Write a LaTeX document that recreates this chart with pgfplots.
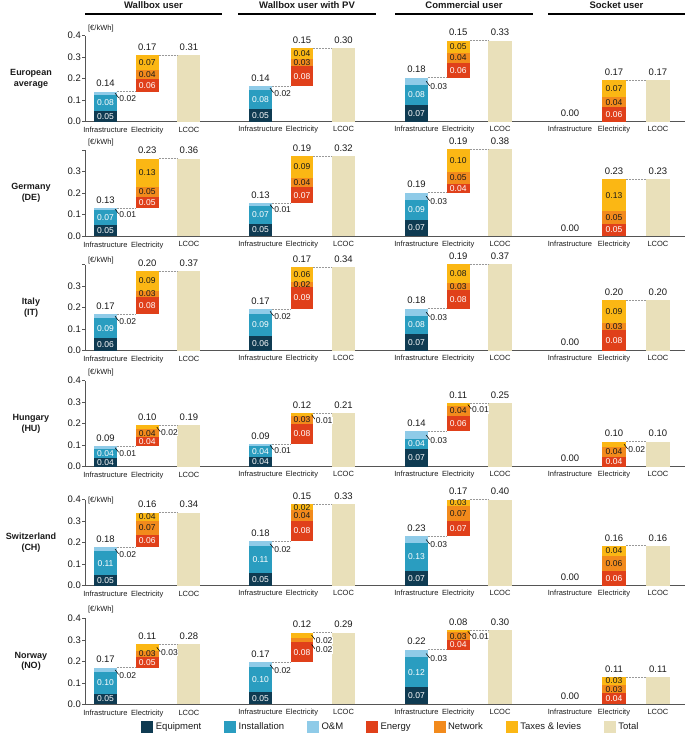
\documentclass[border=0pt]{standalone}
\usepackage{fontspec}
\setmainfont{Liberation Sans}
\usepackage{pgfplots}
\pgfplotsset{compat=1.18}

\definecolor{cEq}{HTML}{0F3B52}
\definecolor{cIn}{HTML}{2A9DC0}
\definecolor{cOM}{HTML}{8FCBE8}
\definecolor{cEn}{HTML}{E0401A}
\definecolor{cNw}{HTML}{F28A1C}
\definecolor{cTx}{HTML}{FBB714}
\definecolor{cTot}{HTML}{E9E0BA}
\definecolor{cAx}{HTML}{555555}
\definecolor{cConn}{HTML}{999999}
\definecolor{cTxt}{HTML}{1A1A1A}

\tikzset{
 seg/.style={font=\fontsize{8.5}{9}\selectfont, inner sep=0pt, anchor=center},
 toplab/.style={font=\fontsize{9.5}{11}\selectfont, text=cTxt, inner sep=0pt, anchor=south, yshift=4.5pt},
 outl/.style={font=\fontsize{8.5}{9}\selectfont, text=cTxt, fill=white, inner sep=0.6pt, anchor=west, yshift=-1pt},
 leader/.style={draw=black, line width=0.55pt},
}

\pgfplotsset{
 wf/.style={ybar stacked, reverse stacked plots=false, scale only axis, height=86pt, ymin=0, clip=false, anchor=south west,
   axis lines=left, axis line style={draw=cAx, line width=0.9pt, -},
   xtick={0,1,2}, xticklabels={Infrastructure,Electricity,LCOC}, xtick style={draw=none},
   xticklabel style={font=\fontsize{7.5}{8}\selectfont, text=cTxt, inner sep=0pt, yshift=-2.5pt},
   every axis plot/.append style={draw=none},
 },
 c1/.style={width=153pt, xmin=-0.491, xmax=3.174, bar width=0.551,
   ytick={0,0.1,0.2,0.3,0.4}, yticklabels={0.0,0.1,0.2,0.3,0.4},
   ytick style={draw=cAx, line width=0.6pt}, major tick length=3pt, tick align=outside,
   y axis line style={line width=0.7pt},
   yticklabel style={font=\fontsize{9.5}{10}\selectfont, text=cTxt, inner sep=1pt}},
 c1n/.style={c1, yticklabels={0.0,0.1,0.2,0.3,{}}},
 c2/.style={width=157pt, xmin=-0.542, xmax=3.241, bar width=0.554, axis y line=none, ytick=\empty},
 c3/.style={width=153pt, xmin=-0.515, xmax=3.150, bar width=0.551, axis y line=none, ytick=\empty},
 c4/.style={width=137pt, xmin=-0.5, xmax=2.614, bar width=0.534, axis y line=none, ytick=\empty},
 conn/.style={sharp plot, stack plots=false, draw=cConn, dashed, dash pattern=on 2pt off 1pt, line width=0.6pt, mark=none, fill=none},
}

% data: equipment, installation, O&M, base(infra total), energy, network, taxes, LCOC total
\newcommand\wfP[8]{%
 \def\dE{#1}\def\dI{#2}\def\dO{#3}\def\dB{#4}\def\dEn{#5}\def\dN{#6}\def\dT{#7}\def\dTot{#8}%
 \addplot[fill=none] coordinates {(0,0) (1,#4) (2,0)};
 \addplot[fill=cEq] coordinates {(0,#1) (1,0) (2,0)};
 \addplot[fill=cIn] coordinates {(0,#2) (1,0) (2,0)};
 \addplot[fill=cOM] coordinates {(0,#3) (1,0) (2,0)};
 \addplot[fill=cEn] coordinates {(0,0) (1,#5) (2,0)};
 \addplot[fill=cNw] coordinates {(0,0) (1,#6) (2,0)};
 \addplot[fill=cTx] coordinates {(0,0) (1,#7) (2,0)};
 \addplot[fill=cTot] coordinates {(0,0) (1,0) (2,#8)};
 \ifdim #4pt>0pt \addplot[conn] coordinates {(0.275,#4) (0.725,#4)};\fi
 \addplot[conn] coordinates {(1.275,#8) (1.725,#8)};
}

\newcommand\seglab[5]{\pgfmathsetmacro\ym{#2+#3/2}\edef\tmp{\noexpand\node[seg,text=#5] at (axis cs:#1,\ym) {#4};}\tmp}
\newcommand\toplabel[3]{\edef\tmp{\noexpand\node[toplab] at (axis cs:#1,#2) {#3};}\tmp}
\newcommand\outlab[3]{\pgfmathsetmacro\yo{#2}\edef\tmp{\noexpand\draw[leader] (axis cs:#1,\yo) -- ++(3.5pt,-4.5pt) node[outl] {#3};}\tmp}
\newcommand\unitlab[1]{\node[anchor=west, font=\fontsize{7.5}{8}\selectfont, text=cTxt, inner sep=0pt] at (axis cs:-0.42,#1) {[€/kWh]};}

\def\storelabels#1#2#3#4#5#6#7#8#9{\def\lE{#1}\def\lI{#2}\def\lO{#3}\def\lB{#4}\def\lEn{#5}\def\lN{#6}\def\lT{#7}\def\lTT{#8}\def\lTot{#9}\dolabels}
\newcommand\labs{\def\wfmode{0}\storelabels}
\newcommand\labsT{\def\wfmode{1}\storelabels}
\newcommand\labsNT{\def\wfmode{2}\storelabels}
\newcommand\dolabels{%
 \ifdim\dE pt>0pt
   \seglab{0}{0}{\dE}{\lE}{white}%
   \seglab{0}{\dE}{\dI}{\lI}{white}%
   \outlab{0.23}{\dE+\dI+\dO/2}{\lO}%
 \fi
 \toplabel{0}{\dB}{\lB}%
 \seglab{1}{\dB}{\dEn}{\lEn}{white}%
 \pgfmathsetmacro\yN{\dB+\dEn}%
 \ifnum\wfmode<2 \seglab{1}{\yN}{\dN}{\lN}{cTxt}\else \outlab{1.23}{\yN-0.008}{\lN}\fi
 \pgfmathsetmacro\yT{\dB+\dEn+\dN}%
 \ifnum\wfmode=0 \seglab{1}{\yT}{\dT}{\lT}{cTxt}\else \outlab{1.23}{\yT+\dT/2}{\lT}\fi
 \pgfmathsetmacro\yTop{\dB+\dEn+\dN+\dT}%
 \toplabel{1}{\yTop}{\lTT}%
 \toplabel{2}{\dTot}{\lTot}%
}

\begin{document}
\begin{tikzpicture}
\useasboundingbox (0,0) rectangle (685pt,-741pt);

% column headers
\foreach \cx/\ttl in {153.5/Wallbox user, 307/Wallbox user with PV, 464/Commercial user, 616.5/Socket user}
  \node[font=\bfseries\fontsize{9.5}{11}\selectfont, text=cTxt] at (\cx pt,-5pt) {\ttl};
\draw[line width=1.1pt] (85pt,-14pt) -- (222pt,-14pt);
\draw[line width=1.1pt] (238pt,-14pt) -- (376pt,-14pt);
\draw[line width=1.1pt] (395pt,-14pt) -- (533pt,-14pt);
\draw[line width=1.1pt] (548pt,-14pt) -- (685pt,-14pt);

% row labels
\tikzset{rowlab/.style={font=\bfseries\fontsize{9}{10.6}\selectfont, text=cTxt, align=center}}
\node[rowlab] at (31pt,-78.7pt) {European\\average};
\node[rowlab] at (31pt,-193pt) {Germany\\(DE)};
\node[rowlab] at (31pt,-307.7pt) {Italy\\(IT)};
\node[rowlab] at (31pt,-423.7pt) {Hungary\\(HU)};
\node[rowlab] at (31pt,-542.7pt) {Switzerland\\(CH)};
\node[rowlab] at (31pt,-661.3pt) {Norway\\(NO)};

% ===== Row 1: European average =====
\begin{axis}[wf,c1,at={(85pt,-121.7pt)},ymax=0.4]
\wfP{0.05}{0.075}{0.015}{0.14}{0.06}{0.04}{0.07}{0.31}
\labs{0.05}{0.08}{0.02}{0.14}{0.06}{0.04}{0.07}{0.17}{0.31}
\unitlab{0.434}
\end{axis}
\begin{axis}[wf,c2,at={(238pt,-121.7pt)},ymax=0.3484]
\wfP{0.05}{0.078}{0.016}{0.144}{0.08}{0.032}{0.041}{0.297}
\labs{0.05}{0.08}{0.02}{0.14}{0.08}{0.03}{0.04}{0.15}{0.30}
\end{axis}
\begin{axis}[wf,c3,at={(395pt,-121.7pt)},ymax=0.3503]
\wfP{0.07}{0.08}{0.03}{0.18}{0.06}{0.04}{0.05}{0.33}
\labs{0.07}{0.08}{0.03}{0.18}{0.06}{0.04}{0.05}{0.15}{0.33}
\end{axis}
\begin{axis}[wf,c4,at={(548pt,-121.7pt)},ymax=0.3506]
\wfP{0}{0}{0}{0}{0.06}{0.04}{0.07}{0.17}
\labs{}{}{}{0.00}{0.06}{0.04}{0.07}{0.17}{0.17}
\end{axis}

% ===== Row 2: Germany =====
\begin{axis}[wf,c1n,at={(85pt,-236pt)},ymax=0.4]
\wfP{0.05}{0.07}{0.01}{0.13}{0.05}{0.05}{0.13}{0.36}
\labs{0.05}{0.07}{0.01}{0.13}{0.05}{0.05}{0.13}{0.23}{0.36}
\unitlab{0.436}
\end{axis}
\begin{axis}[wf,c2,at={(238pt,-236pt)},ymax=0.3472]
\wfP{0.05}{0.072}{0.01}{0.132}{0.066}{0.037}{0.088}{0.323}
\labs{0.05}{0.07}{0.01}{0.13}{0.07}{0.04}{0.09}{0.19}{0.32}
\end{axis}
\begin{axis}[wf,c3,at={(395pt,-236pt)},ymax=0.3774]
\wfP{0.07}{0.09}{0.03}{0.19}{0.04}{0.05}{0.10}{0.38}
\labs{0.07}{0.09}{0.03}{0.19}{0.04}{0.05}{0.10}{0.19}{0.38}
\end{axis}
\begin{axis}[wf,c4,at={(548pt,-236pt)},ymax=0.3484]
\wfP{0}{0}{0}{0}{0.05}{0.05}{0.13}{0.23}
\labs{}{}{}{0.00}{0.05}{0.05}{0.13}{0.23}{0.23}
\end{axis}

% ===== Row 3: Italy =====
\begin{axis}[wf,c1n,at={(85pt,-350.7pt)},ymax=0.4]
\wfP{0.06}{0.09}{0.02}{0.17}{0.08}{0.03}{0.09}{0.37}
\labs{0.06}{0.09}{0.02}{0.17}{0.08}{0.03}{0.09}{0.20}{0.37}
\unitlab{0.419}
\end{axis}
\begin{axis}[wf,c2,at={(238pt,-350.7pt)},ymax=0.3497]
\wfP{0.06}{0.09}{0.02}{0.17}{0.09}{0.02}{0.06}{0.34}
\labs{0.06}{0.09}{0.02}{0.17}{0.09}{0.02}{0.06}{0.17}{0.34}
\end{axis}
\begin{axis}[wf,c3,at={(395pt,-350.7pt)},ymax=0.3673]
\wfP{0.07}{0.08}{0.03}{0.18}{0.08}{0.03}{0.08}{0.37}
\labs{0.07}{0.08}{0.03}{0.18}{0.08}{0.03}{0.08}{0.19}{0.37}
\end{axis}
\begin{axis}[wf,c4,at={(548pt,-350.7pt)},ymax=0.339]
\wfP{0}{0}{0}{0}{0.08}{0.03}{0.09}{0.20}
\labs{}{}{}{0.00}{0.08}{0.03}{0.09}{0.20}{0.20}
\end{axis}

% ===== Row 4: Hungary =====
\begin{axis}[wf,c1,at={(85pt,-466.7pt)},ymax=0.4]
\wfP{0.042}{0.041}{0.011}{0.094}{0.042}{0.038}{0.02}{0.194}
\labsT{0.04}{0.04}{0.01}{0.09}{0.04}{0.04}{0.02}{0.10}{0.19}
\unitlab{0.437}
\end{axis}
\begin{axis}[wf,c2,at={(238pt,-466.7pt)},ymax=0.339]
\wfP{0.04}{0.04}{0.01}{0.09}{0.08}{0.03}{0.01}{0.21}
\labsT{0.04}{0.04}{0.01}{0.09}{0.08}{0.03}{0.01}{0.12}{0.21}
\end{axis}
\begin{axis}[wf,c3,at={(395pt,-466.7pt)},ymax=0.339]
\wfP{0.07}{0.04}{0.03}{0.14}{0.06}{0.04}{0.01}{0.25}
\labsT{0.07}{0.04}{0.03}{0.14}{0.06}{0.04}{0.01}{0.11}{0.25}
\end{axis}
\begin{axis}[wf,c4,at={(548pt,-466.7pt)},ymax=0.3448]
\wfP{0}{0}{0}{0}{0.04}{0.04}{0.02}{0.10}
\labsT{}{}{}{0.00}{0.04}{0.04}{0.02}{0.10}{0.10}
\end{axis}

% ===== Row 5: Switzerland =====
\begin{axis}[wf,c1,at={(85pt,-585.7pt)},ymax=0.4]
\wfP{0.05}{0.11}{0.02}{0.18}{0.057}{0.066}{0.037}{0.34}
\labs{0.05}{0.11}{0.02}{0.18}{0.06}{0.07}{0.04}{0.16}{0.34}
\unitlab{0.395}
\end{axis}
\begin{axis}[wf,c2,at={(238pt,-585.7pt)},ymax=0.3478]
\wfP{0.05}{0.11}{0.02}{0.18}{0.083}{0.043}{0.024}{0.33}
\labs{0.05}{0.11}{0.02}{0.18}{0.08}{0.04}{0.02}{0.15}{0.33}
\end{axis}
\begin{axis}[wf,c3,at={(395pt,-585.7pt)},ymax=0.4]
\wfP{0.07}{0.13}{0.03}{0.23}{0.07}{0.07}{0.03}{0.40}
\labs{0.07}{0.13}{0.03}{0.23}{0.07}{0.07}{0.03}{0.17}{0.40}
\end{axis}
\begin{axis}[wf,c4,at={(548pt,-585.7pt)},ymax=0.3448]
\wfP{0}{0}{0}{0}{0.06}{0.06}{0.04}{0.16}
\labs{}{}{}{0.00}{0.06}{0.06}{0.04}{0.16}{0.16}
\end{axis}

% ===== Row 6: Norway =====
\begin{axis}[wf,c1,at={(85pt,-704.3pt)},ymax=0.4]
\wfP{0.05}{0.10}{0.02}{0.17}{0.05}{0.03}{0.03}{0.28}
\labsT{0.05}{0.10}{0.02}{0.17}{0.05}{0.03}{0.03}{0.11}{0.28}
\unitlab{0.439}
\end{axis}
\begin{axis}[wf,c2,at={(238pt,-704.3pt)},ymax=0.3478]
\wfP{0.05}{0.10}{0.02}{0.17}{0.08}{0.02}{0.02}{0.29}
\labsNT{0.05}{0.10}{0.02}{0.17}{0.08}{0.02}{0.02}{0.12}{0.29}
\end{axis}
\begin{axis}[wf,c3,at={(395pt,-704.3pt)},ymax=0.347]
\wfP{0.07}{0.12}{0.03}{0.22}{0.04}{0.03}{0.01}{0.30}
\labsT{0.07}{0.12}{0.03}{0.22}{0.04}{0.03}{0.01}{0.08}{0.30}
\end{axis}
\begin{axis}[wf,c4,at={(548pt,-704.3pt)},ymax=0.3448]
\wfP{0}{0}{0}{0}{0.044}{0.033}{0.033}{0.11}
\labs{}{}{}{0.00}{0.04}{0.03}{0.03}{0.11}{0.11}
\end{axis}

% ===== Legend =====
\begin{axis}[hide axis, scale only axis, width=10pt, height=10pt, xmin=0, xmax=1, ymin=0, ymax=1,
  at={(391pt,-727pt)}, anchor=center, legend columns=7, legend cell align=left,
  legend style={at={(0.5,0.5)}, anchor=center, draw=none, fill=none, text=cTxt,
    font=\fontsize{9.5}{11}\selectfont, /tikz/every even column/.append style={column sep=21pt},
    /tikz/every odd column/.append style={column sep=1pt}}]
\addlegendimage{legend image code/.code={\fill[cEq] (0pt,-5.5pt) rectangle (11pt,5.5pt);}}
\addlegendentry{Equipment}
\addlegendimage{legend image code/.code={\fill[cIn] (0pt,-5.5pt) rectangle (11pt,5.5pt);}}
\addlegendentry{Installation}
\addlegendimage{legend image code/.code={\fill[cOM] (0pt,-5.5pt) rectangle (11pt,5.5pt);}}
\addlegendentry{O\&M}
\addlegendimage{legend image code/.code={\fill[cEn] (0pt,-5.5pt) rectangle (11pt,5.5pt);}}
\addlegendentry{Energy}
\addlegendimage{legend image code/.code={\fill[cNw] (0pt,-5.5pt) rectangle (11pt,5.5pt);}}
\addlegendentry{Network}
\addlegendimage{legend image code/.code={\fill[cTx] (0pt,-5.5pt) rectangle (11pt,5.5pt);}}
\addlegendentry{Taxes \& levies}
\addlegendimage{legend image code/.code={\fill[cTot] (0pt,-5.5pt) rectangle (11pt,5.5pt);}}
\addlegendentry{Total}
\end{axis}
\end{tikzpicture}
\end{document}
